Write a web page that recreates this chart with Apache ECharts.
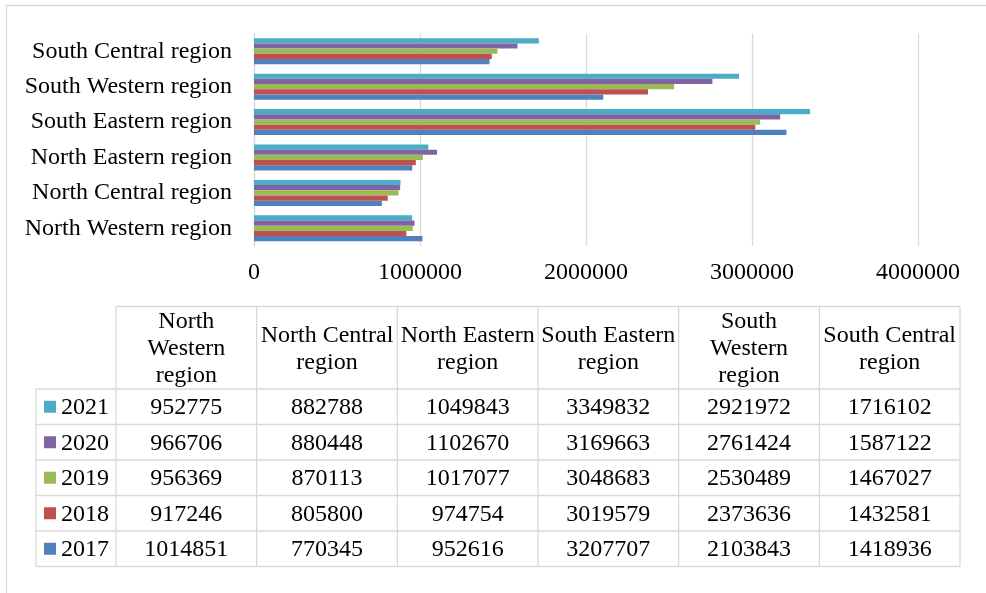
<!DOCTYPE html>
<html>
<head>
<meta charset="utf-8">
<script src="https://cdn.jsdelivr.net/npm/echarts@6/dist/echarts.min.js"></script>
<style>
  html, body { margin: 0; padding: 0; background: #fff; }
  #chart { width: 986px; height: 593px; }
</style>
</head>
<body>
<div id="chart"></div>
<script>
// Regions, bottom to top on the category axis
const categories = ['North Western region', 'North Central region', 'North Eastern region',
  'South Eastern region', 'South Western region', 'South Central region'];
// Wrapped header text for the data table columns
const tableHeaders = ['North\nWestern\nregion', 'North Central\nregion', 'North Eastern\nregion',
  'South Eastern\nregion', 'South\nWestern\nregion', 'South Central\nregion'];
const years = ['2017', '2018', '2019', '2020', '2021'];
const values2017 = [1014851, 770345, 952616, 3207707, 2103843, 1418936];
const values2018 = [917246, 805800, 974754, 3019579, 2373636, 1432581];
const values2019 = [956369, 870113, 1017077, 3048683, 2530489, 1467027];
const values2020 = [966706, 880448, 1102670, 3169663, 2761424, 1587122];
const values2021 = [952775, 882788, 1049843, 3349832, 2921972, 1716102];
const seriesValues = [values2017, values2018, values2019, values2020, values2021];
const yearColors = ['#4F81BD', '#C0504D', '#9BBB59', '#8064A2', '#4BACC6'];
const axisMin = 0, axisMax = 4000000, axisStep = 1000000;

const FONT = 'Liberation Serif, Times New Roman, serif';
const FS = 24;
const LINE = '#d9d9d9';

// Data table geometry
const colX = [];
for (let i = 0; i <= 6; i++) colX.push(116 + i * 140.67);
const headerTop = 306.5, headerBottom = 389, rowH = 35.5;
const yearColLeft = 36;

function tableElements() {
  const els = [];
  const rowsBottom = headerBottom + rowH * years.length;
  const hline = (x1, x2, y) => els.push({ type: 'line', silent: true,
    shape: { x1, y1: y, x2, y2: y }, style: { stroke: LINE, lineWidth: 1.3 } });
  const vline = (x, y1, y2) => els.push({ type: 'line', silent: true,
    shape: { x1: x, y1, x2: x, y2 }, style: { stroke: LINE, lineWidth: 1.3 } });

  hline(colX[0], colX[6], headerTop);
  for (let r = 0; r <= years.length; r++) hline(yearColLeft, colX[6], headerBottom + r * rowH);
  vline(yearColLeft, headerBottom, rowsBottom);
  colX.forEach(x => vline(x, headerTop, rowsBottom));

  tableHeaders.forEach((h, c) => {
    els.push({ type: 'text', silent: true,
      x: (colX[c] + colX[c + 1]) / 2, y: (headerTop + headerBottom) / 2 + 1,
      style: { text: h, fontSize: FS, fontFamily: FONT, fill: '#000',
        align: 'center', verticalAlign: 'middle', lineHeight: 27 } });
  });

  // Rows run from the latest year at the top to the earliest at the bottom
  for (let r = 0; r < years.length; r++) {
    const s = years.length - 1 - r;
    const cy = headerBottom + r * rowH + rowH / 2;
    els.push({ type: 'rect', silent: true,
      shape: { x: 44, y: cy - 6, width: 12, height: 12 },
      style: { fill: yearColors[s] } });
    els.push({ type: 'text', silent: true, x: 61, y: cy + 1,
      style: { text: years[s], fontSize: FS, fontFamily: FONT, fill: '#000',
        align: 'left', verticalAlign: 'middle' } });
    seriesValues[s].forEach((v, c) => {
      els.push({ type: 'text', silent: true,
        x: (colX[c] + colX[c + 1]) / 2, y: cy + 1,
        style: { text: String(v), fontSize: FS, fontFamily: FONT, fill: '#000',
          align: 'center', verticalAlign: 'middle' } });
    });
  }
  return els;
}

// Bars inside each group stack top-down in series order, so list the latest year first
const barOrder = years.map((_, i) => i).reverse();

const chart = echarts.init(document.getElementById('chart'), null, { renderer: 'canvas' });
chart.setOption({
  animation: false,
  backgroundColor: '#fff',
  grid: { left: 254, right: 68, top: 33.5, bottom: 347 },
  xAxis: {
    type: 'value', min: axisMin, max: axisMax, interval: axisStep,
    axisLine: { show: false }, axisTick: { show: false },
    splitLine: { show: true, lineStyle: { color: LINE, width: 1.3 } },
    axisLabel: { color: '#000', fontSize: FS, fontFamily: FONT, margin: 15,
      formatter: v => String(v) }
  },
  yAxis: {
    type: 'category', data: categories,
    axisLine: { show: true, lineStyle: { color: LINE, width: 1.3 } },
    axisTick: { show: false },
    axisLabel: { color: '#000', fontSize: FS, fontFamily: FONT, margin: 22 }
  },
  series: barOrder.map(i => ({
    name: years[i], type: 'bar', data: seriesValues[i],
    barWidth: 5.2, barGap: '0%',
    itemStyle: { color: yearColors[i] }
  })),
  graphic: [
    { type: 'rect', silent: true, z: -1,
      shape: { x: 6.5, y: 5.5, width: 1000, height: 700 },
      style: { fill: 'none', stroke: LINE, lineWidth: 1.3 } },
    ...tableElements()
  ]
});
</script>
</body>
</html>
